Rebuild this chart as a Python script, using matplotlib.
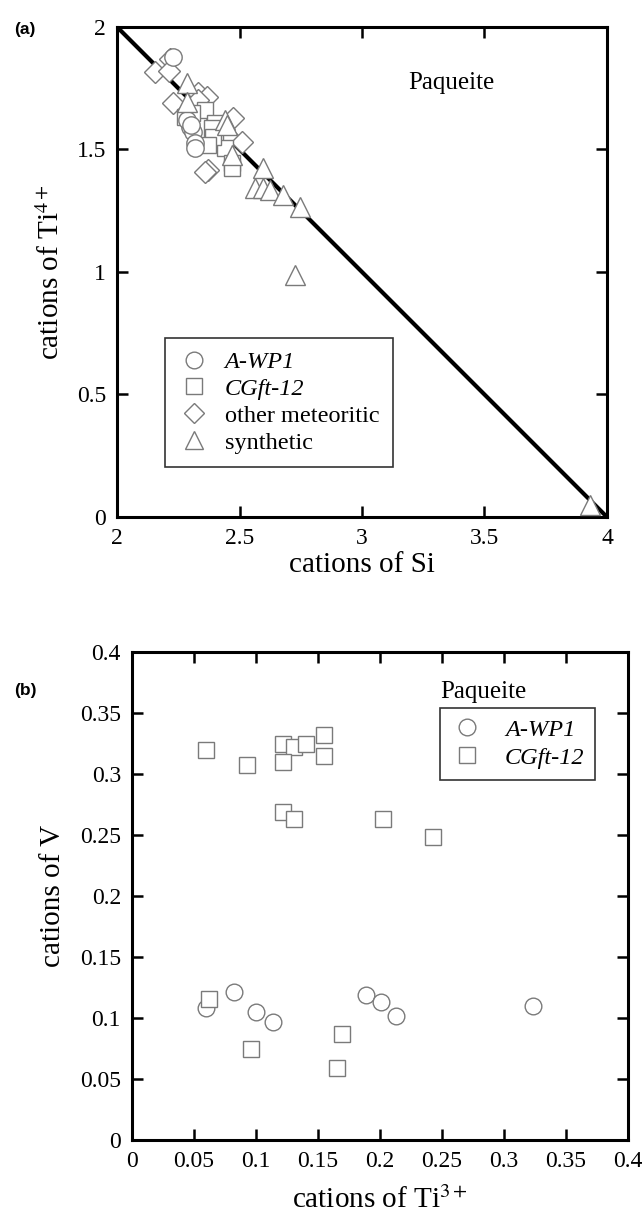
import matplotlib
matplotlib.use("Agg")
import matplotlib.pyplot as plt
from matplotlib.lines import Line2D
from matplotlib.ticker import FuncFormatter

plt.rcParams['font.family'] = ['Liberation Serif', 'DejaVu Serif']
plt.rcParams['mathtext.fontset'] = 'stix'

# panel (a): cations of Si vs cations of Ti4+
awp1_si = [2.227, 2.298, 2.311, 2.318, 2.318, 2.284, 2.300]
awp1_ti = [1.876, 1.593, 1.573, 1.525, 1.505, 1.620, 1.600]
cgft_si = [2.359, 2.278, 2.305, 2.400, 2.386, 2.400, 2.441, 2.468, 2.468, 2.390, 2.370]
cgft_ti = [1.661, 1.634, 1.648, 1.607, 1.587, 1.546, 1.505, 1.443, 1.423, 1.550, 1.520]
met_si = [2.216, 2.155, 2.213, 2.332, 2.366, 2.227, 2.472, 2.461, 2.509, 2.373, 2.360, 2.330]
met_ti = [1.868, 1.815, 1.822, 1.732, 1.713, 1.689, 1.627, 1.546, 1.532, 1.416, 1.410, 1.700]
syn_si = [2.287, 2.284, 2.441, 2.468, 2.597, 2.563, 2.597, 2.624, 2.679, 2.747, 2.727, 3.930, 2.450]
syn_ti = [1.773, 1.695, 1.620, 1.478, 1.423, 1.342, 1.342, 1.335, 1.314, 1.267, 0.988, 0.049, 1.600]
ideal_si = [2, 4]
ideal_ti = [2, 0]

# panel (b): cations of Ti3+ vs cations of V
b_awp1_ti = [0.060, 0.0825, 0.0997, 0.1134, 0.189, 0.201, 0.213, 0.3236]
b_awp1_v = [0.108, 0.1216, 0.1047, 0.0965, 0.1186, 0.113, 0.102, 0.110]
b_cgft_ti = [0.060, 0.0925, 0.122, 0.131, 0.140, 0.155, 0.122, 0.155, 0.1215, 0.1306,
             0.2024, 0.2427, 0.062, 0.0957, 0.1696, 0.165]
b_cgft_v = [0.320, 0.307, 0.325, 0.322, 0.325, 0.332, 0.310, 0.315, 0.2686, 0.263,
            0.2634, 0.248, 0.1156, 0.0746, 0.0869, 0.0593]

edge = '#7a7a7a'
mk = dict(linestyle='none', markerfacecolor='white', markeredgecolor=edge, markeredgewidth=1.0)
fmt = FuncFormatter(lambda v, p: '%g' % round(v, 2))

fig = plt.figure(figsize=(6.44, 12.24), dpi=100)
ax1 = fig.add_axes([0.1817, 0.5776, 0.7608, 0.4004])
ax2 = fig.add_axes([0.205, 0.0686, 0.770, 0.3987])

ax1.plot(ideal_si, ideal_ti, color='black', lw=3, zorder=2)
ax1.plot(met_si, met_ti, marker='D', markersize=11, zorder=3, **mk)
ax1.plot(cgft_si, cgft_ti, marker='s', markersize=12, zorder=3, **mk)
ax1.plot(awp1_si, awp1_ti, marker='o', markersize=12.5, zorder=3, **mk)
ax1.plot(syn_si, syn_ti, marker='^', markersize=14, zorder=3, **mk)
ax1.set_xlim(2, 4)
ax1.set_ylim(0, 2)
ax1.set_xticks([2, 2.5, 3, 3.5, 4])
ax1.set_yticks([0, 0.5, 1, 1.5, 2])
ax1.xaxis.set_major_formatter(fmt)
ax1.yaxis.set_major_formatter(fmt)
ax1.set_xlabel('cations of Si', fontsize=21, labelpad=2)
ax1.set_ylabel('cations of Ti$^{4+}$', fontsize=21, labelpad=8)
ax1.text(0.594, 0.873, 'Paqueite', transform=ax1.transAxes, fontsize=18)

handles = [Line2D([], [], marker='o', markersize=12, **mk),
           Line2D([], [], marker='s', markersize=11, **mk),
           Line2D([], [], marker='D', markersize=10, **mk),
           Line2D([], [], marker='^', markersize=13, **mk)]
leg = ax1.legend(handles, ['A-WP1', 'CGft-12', 'other meteoritic', 'synthetic'],
                 loc='lower left', bbox_to_anchor=(0.098, 0.102), borderaxespad=0,
                 fontsize=17.5, frameon=True, fancybox=False, edgecolor='black',
                 handlelength=1.3, handletextpad=0.6, labelspacing=0.2, borderpad=0.55)
leg.get_frame().set_linewidth(1.2)
for t in leg.get_texts()[:2]:
    t.set_style('italic')

ax2.plot(b_awp1_ti, b_awp1_v, marker='o', markersize=12, zorder=3, **mk)
ax2.plot(b_cgft_ti, b_cgft_v, marker='s', markersize=12, zorder=3, **mk)
ax2.set_xlim(0, 0.4)
ax2.set_ylim(0, 0.4)
ticks = [0, 0.05, 0.1, 0.15, 0.2, 0.25, 0.3, 0.35, 0.4]
ax2.set_xticks(ticks)
ax2.set_yticks(ticks)
ax2.xaxis.set_major_formatter(fmt)
ax2.yaxis.set_major_formatter(fmt)
ax2.set_xlabel('cations of Ti$^{3+}$', fontsize=21, labelpad=10)
ax2.set_ylabel('cations of V', fontsize=21, labelpad=10)
ax2.text(0.621, 0.905, 'Paqueite', transform=ax2.transAxes, fontsize=18)
handles2 = [Line2D([], [], marker='o', markersize=12, **mk),
            Line2D([], [], marker='s', markersize=12, **mk)]
leg2 = ax2.legend(handles2, ['A-WP1', 'CGft-12'], loc='upper left',
                  bbox_to_anchor=(0.622, 0.886), borderaxespad=0, fontsize=17.5,
                  frameon=True, fancybox=False, edgecolor='black', handlelength=1.3,
                  handletextpad=0.9, labelspacing=0.25, borderpad=0.45)
leg2.get_frame().set_linewidth(1.2)
for t in leg2.get_texts():
    t.set_style('italic')

for ax in (ax1, ax2):
    for s in ax.spines.values():
        s.set_linewidth(2.2)
    ax.tick_params(direction='in', length=8, width=1.8, labelsize=17,
                   top=True, right=True, pad=8)

fig.text(0.022, 0.972, '(a)', fontsize=12.5, fontweight='bold', family='Liberation Sans')
fig.text(0.022, 0.432, '(b)', fontsize=12.5, fontweight='bold', family='Liberation Sans')

fig.savefig('out.png', dpi=100)
